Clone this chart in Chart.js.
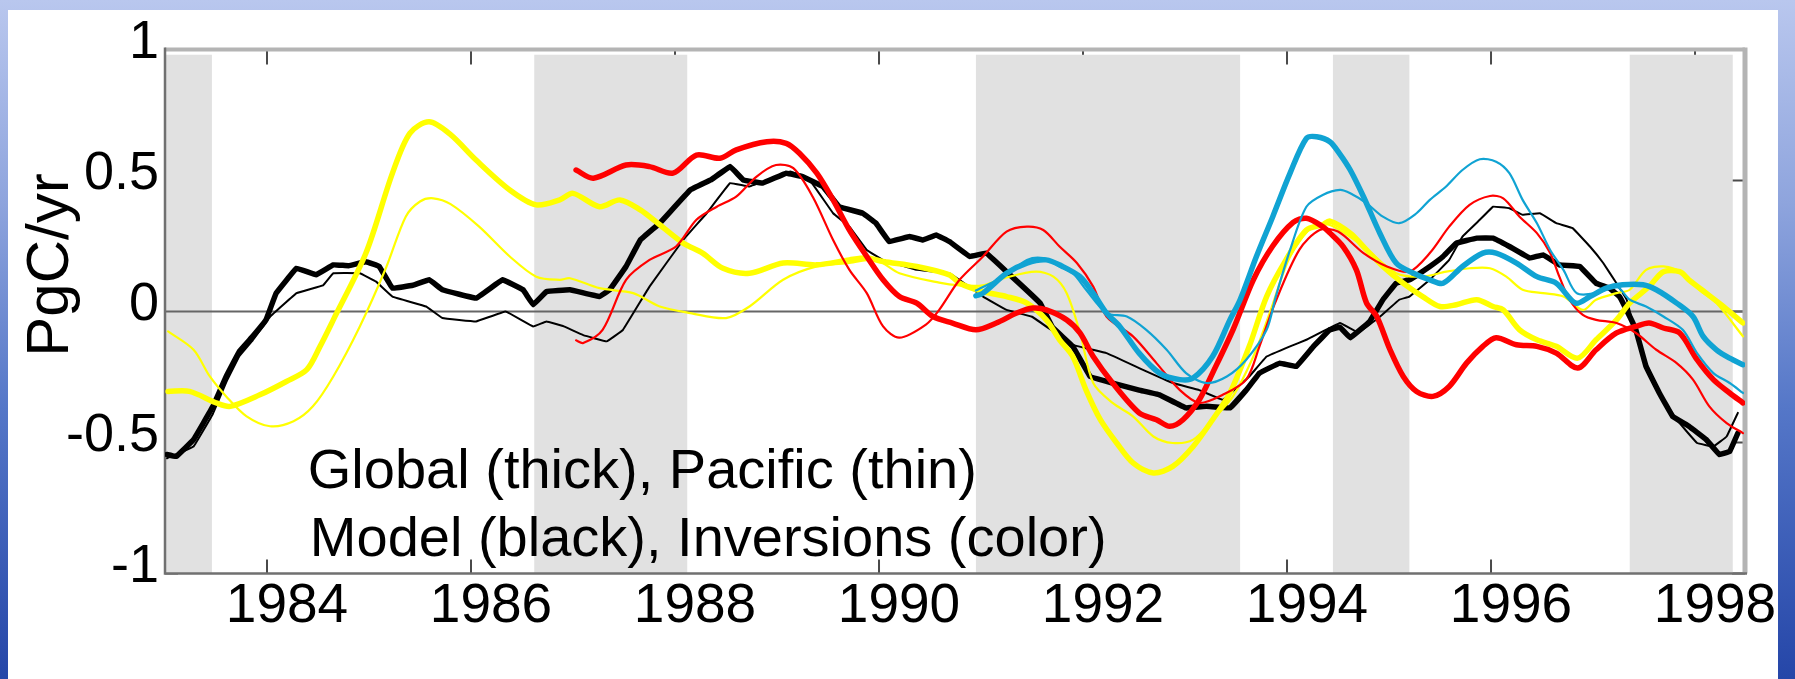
<!DOCTYPE html>
<html>
<head>
<meta charset="utf-8">
<script src="https://cdn.jsdelivr.net/npm/chart.js@4.4.1/dist/chart.umd.min.js"></script>
<style>
  html, body { margin: 0; padding: 0; }
  body {
    width: 1795px; height: 679px; overflow: hidden; position: relative;
    background: linear-gradient(180deg, #b9c7ee 0%, #8ea4dd 30%, #5577c8 60%, #2546a8 100%);
  }
  #paper { position: absolute; left: 8px; top: 10px; width: 1770px; height: 669px; background: #ffffff; }
  #wrap { position: absolute; left: 0; top: 0; width: 1795px; height: 679px; }
</style>
</head>
<body>
<div id="paper"></div>
<div id="wrap"><canvas id="c" width="1795" height="679"></canvas></div>
<script>
// ---------------- data (years, PgC/yr) ----------------
const xTickYears = [1984, 1986, 1988, 1990, 1992, 1994, 1996, 1998];
const yTickValues = [-1, -0.5, 0, 0.5, 1];
const yTickLabels = ['-1', '-0.5', '0', '0.5', '1'];
const bandStart = [1983.0, 1986.62, 1990.95, 1994.45, 1997.36];
const bandEnd   = [1983.46, 1988.12, 1993.54, 1995.20, 1998.37];
const yTitle = 'PgC/yr';
const noteLine1 = 'Global (thick), Pacific (thin)';
const noteLine2 = 'Model (black), Inversions (color)';

const blackThick = [[1983.02,-0.546],[1983.11,-0.553],[1983.28,-0.489],[1983.47,-0.362],[1983.60,-0.248],[1983.73,-0.152],[1983.86,-0.095],[1983.99,-0.032],[1984.09,0.07],[1984.29,0.165],[1984.48,0.14],[1984.65,0.178],[1984.80,0.175],[1984.97,0.19],[1985.10,0.172],[1985.23,0.089],[1985.43,0.10],[1985.59,0.121],[1985.72,0.083],[1986.05,0.051],[1986.31,0.121],[1986.51,0.083],[1986.61,0.026],[1986.74,0.076],[1986.97,0.083],[1987.26,0.057],[1987.36,0.083],[1987.52,0.172],[1987.66,0.273],[1987.85,0.337],[1988.15,0.464],[1988.35,0.502],[1988.54,0.553],[1988.67,0.502],[1988.86,0.49],[1989.09,0.528],[1989.25,0.515],[1989.45,0.477],[1989.61,0.40],[1989.84,0.375],[1989.97,0.337],[1990.10,0.267],[1990.30,0.286],[1990.43,0.273],[1990.56,0.292],[1990.69,0.267],[1990.89,0.21],[1991.05,0.223],[1991.25,0.152],[1991.41,0.095],[1991.58,0.032],[1991.70,-0.06],[1991.90,-0.133],[1992.07,-0.248],[1992.29,-0.273],[1992.55,-0.30],[1992.75,-0.318],[1993.01,-0.368],[1993.21,-0.362],[1993.44,-0.368],[1993.60,-0.30],[1993.73,-0.235],[1993.93,-0.197],[1994.09,-0.21],[1994.26,-0.133],[1994.42,-0.07],[1994.52,-0.06],[1994.62,-0.10],[1994.81,-0.038],[1994.94,0.045],[1995.07,0.108],[1995.20,0.121],[1995.40,0.172],[1995.53,0.21],[1995.66,0.261],[1995.86,0.28],[1996.02,0.28],[1996.18,0.248],[1996.38,0.204],[1996.51,0.216],[1996.67,0.178],[1996.87,0.172],[1997.03,0.108],[1997.16,0.089],[1997.26,0.057],[1997.36,-0.019],[1997.42,-0.07],[1997.52,-0.21],[1997.65,-0.311],[1997.78,-0.40],[1997.94,-0.438],[1998.11,-0.489],[1998.24,-0.546],[1998.34,-0.534],[1998.42,-0.464]];

const blackThin = [[1983.02,-0.56],[1983.28,-0.515],[1983.47,-0.39],[1983.60,-0.27],[1983.73,-0.17],[1983.86,-0.11],[1984.03,-0.02],[1984.29,0.07],[1984.55,0.10],[1984.65,0.146],[1984.91,0.146],[1985.07,0.114],[1985.23,0.057],[1985.56,0.019],[1985.72,-0.025],[1986.05,-0.038],[1986.34,0.0],[1986.61,-0.057],[1986.74,-0.038],[1986.91,-0.057],[1987.10,-0.09],[1987.33,-0.114],[1987.49,-0.07],[1987.75,0.095],[1988.08,0.273],[1988.31,0.375],[1988.54,0.49],[1988.73,0.477],[1989.13,0.534],[1989.32,0.502],[1989.55,0.375],[1989.71,0.324],[1989.88,0.235],[1990.04,0.197],[1990.37,0.159],[1990.69,0.146],[1991.02,0.057],[1991.25,0.006],[1991.50,-0.02],[1991.90,-0.127],[1992.23,-0.159],[1992.55,-0.216],[1992.88,-0.273],[1993.14,-0.30],[1993.37,-0.337],[1993.63,-0.248],[1993.80,-0.172],[1994.03,-0.133],[1994.19,-0.108],[1994.52,-0.044],[1994.70,-0.08],[1994.91,-0.02],[1995.10,0.045],[1995.20,0.057],[1995.40,0.121],[1995.59,0.197],[1995.72,0.286],[1995.89,0.35],[1996.02,0.40],[1996.18,0.394],[1996.31,0.369],[1996.48,0.375],[1996.64,0.337],[1996.80,0.318],[1996.97,0.248],[1997.10,0.185],[1997.23,0.108],[1997.33,0.045],[1997.39,-0.044],[1997.52,-0.197],[1997.69,-0.337],[1997.82,-0.413],[1998.02,-0.502],[1998.18,-0.515],[1998.31,-0.477],[1998.42,-0.387]];

const yellowThick = [[1983.03,-0.305],[1983.24,-0.305],[1983.51,-0.35],[1983.64,-0.362],[1983.93,-0.318],[1984.19,-0.267],[1984.39,-0.222],[1984.52,-0.133],[1984.65,-0.032],[1984.97,0.223],[1985.23,0.528],[1985.40,0.68],[1985.59,0.724],[1985.80,0.675],[1986.05,0.578],[1986.38,0.464],[1986.64,0.407],[1986.87,0.426],[1987.00,0.451],[1987.26,0.40],[1987.46,0.426],[1987.66,0.388],[1987.85,0.331],[1988.08,0.261],[1988.27,0.223],[1988.47,0.165],[1988.73,0.146],[1989.06,0.185],[1989.39,0.178],[1989.71,0.197],[1989.88,0.204],[1990.04,0.191],[1990.37,0.172],[1990.69,0.14],[1990.79,0.108],[1991.02,0.076],[1991.25,0.057],[1991.45,0.032],[1991.64,-0.032],[1991.77,-0.108],[1991.90,-0.172],[1992.03,-0.30],[1992.17,-0.413],[1992.33,-0.502],[1992.49,-0.578],[1992.69,-0.616],[1992.88,-0.591],[1993.08,-0.515],[1993.27,-0.413],[1993.44,-0.311],[1993.63,-0.133],[1993.80,0.057],[1993.99,0.197],[1994.19,0.311],[1994.35,0.331],[1994.42,0.345],[1994.62,0.299],[1994.78,0.235],[1994.94,0.172],[1995.14,0.108],[1995.33,0.057],[1995.50,0.019],[1995.66,0.026],[1995.86,0.045],[1996.02,0.019],[1996.12,0.006],[1996.28,-0.07],[1996.45,-0.108],[1996.64,-0.133],[1996.85,-0.178],[1997.03,-0.108],[1997.23,-0.032],[1997.36,0.032],[1997.55,0.095],[1997.69,0.152],[1997.85,0.152],[1997.94,0.121],[1998.11,0.07],[1998.28,0.019],[1998.47,-0.044]];

const yellowThin = [[1983.03,-0.076],[1983.28,-0.146],[1983.44,-0.248],[1983.60,-0.324],[1983.80,-0.40],[1984.03,-0.438],[1984.26,-0.419],[1984.45,-0.362],[1984.65,-0.248],[1984.91,-0.057],[1985.17,0.17],[1985.36,0.362],[1985.50,0.42],[1985.63,0.432],[1985.80,0.41],[1986.08,0.324],[1986.38,0.21],[1986.64,0.133],[1986.87,0.121],[1986.97,0.127],[1987.26,0.089],[1987.59,0.07],[1987.85,0.019],[1988.15,-0.006],[1988.50,-0.025],[1988.73,0.019],[1989.06,0.121],[1989.39,0.172],[1989.71,0.185],[1989.97,0.197],[1990.20,0.146],[1990.59,0.11],[1990.79,0.10],[1991.02,0.10],[1991.25,0.13],[1991.54,0.152],[1991.71,0.133],[1991.84,0.07],[1991.97,-0.08],[1992.10,-0.273],[1992.29,-0.349],[1992.49,-0.40],[1992.69,-0.477],[1992.88,-0.502],[1993.08,-0.489],[1993.27,-0.413],[1993.47,-0.324],[1993.67,-0.172],[1993.83,-0.006],[1994.03,0.21],[1994.25,0.324],[1994.42,0.33],[1994.75,0.248],[1995.07,0.146],[1995.33,0.133],[1995.56,0.152],[1995.79,0.165],[1995.99,0.165],[1996.15,0.133],[1996.31,0.083],[1996.51,0.07],[1996.71,0.057],[1996.90,0.006],[1997.03,0.045],[1997.23,0.07],[1997.36,0.083],[1997.52,0.159],[1997.69,0.172],[1997.88,0.146],[1998.04,0.083],[1998.21,0.032],[1998.47,-0.095]];

const redThick = [[1987.03,0.540],[1987.20,0.509],[1987.52,0.559],[1987.75,0.553],[1987.98,0.528],[1988.21,0.597],[1988.44,0.585],[1988.60,0.617],[1988.90,0.648],[1989.09,0.642],[1989.22,0.604],[1989.39,0.528],[1989.55,0.426],[1989.71,0.311],[1989.88,0.21],[1990.04,0.121],[1990.20,0.057],[1990.37,0.032],[1990.53,-0.019],[1990.72,-0.044],[1990.95,-0.07],[1991.15,-0.044],[1991.35,-0.006],[1991.51,0.013],[1991.64,0.006],[1991.84,-0.032],[1991.97,-0.082],[1992.10,-0.172],[1992.29,-0.273],[1992.55,-0.387],[1992.72,-0.413],[1992.85,-0.438],[1992.98,-0.413],[1993.14,-0.337],[1993.27,-0.235],[1993.47,-0.07],[1993.67,0.121],[1993.86,0.25],[1994.06,0.34],[1994.19,0.356],[1994.35,0.324],[1994.42,0.30],[1994.55,0.248],[1994.68,0.159],[1994.78,0.032],[1994.88,-0.019],[1995.01,-0.146],[1995.14,-0.248],[1995.27,-0.305],[1995.43,-0.324],[1995.59,-0.286],[1995.76,-0.197],[1995.92,-0.133],[1996.05,-0.10],[1996.25,-0.127],[1996.45,-0.133],[1996.64,-0.159],[1996.85,-0.216],[1997.03,-0.146],[1997.23,-0.082],[1997.42,-0.057],[1997.55,-0.044],[1997.69,-0.063],[1997.85,-0.082],[1998.02,-0.184],[1998.18,-0.26],[1998.34,-0.311],[1998.47,-0.349]];

const redThin = [[1987.03,-0.11],[1987.10,-0.12],[1987.29,-0.07],[1987.52,0.121],[1987.75,0.197],[1988.01,0.248],[1988.21,0.35],[1988.41,0.40],[1988.60,0.438],[1988.80,0.515],[1988.99,0.559],[1989.16,0.547],[1989.35,0.438],[1989.55,0.273],[1989.71,0.159],[1989.88,0.07],[1990.04,-0.057],[1990.20,-0.10],[1990.46,-0.05],[1990.59,0.006],[1990.79,0.121],[1991.02,0.21],[1991.25,0.305],[1991.45,0.324],[1991.61,0.311],[1991.77,0.248],[1991.94,0.185],[1992.10,0.095],[1992.23,-0.019],[1992.49,-0.095],[1992.72,-0.197],[1992.95,-0.30],[1993.14,-0.349],[1993.37,-0.318],[1993.60,-0.26],[1993.73,-0.133],[1993.88,0.03],[1994.12,0.235],[1994.32,0.311],[1994.50,0.305],[1994.75,0.223],[1994.98,0.172],[1995.20,0.152],[1995.40,0.223],[1995.59,0.324],[1995.79,0.407],[1995.99,0.441],[1996.12,0.432],[1996.28,0.362],[1996.45,0.299],[1996.58,0.223],[1996.67,0.133],[1996.77,0.045],[1996.90,-0.013],[1997.03,-0.032],[1997.23,-0.044],[1997.42,-0.082],[1997.62,-0.146],[1997.82,-0.197],[1997.98,-0.26],[1998.14,-0.362],[1998.31,-0.426],[1998.47,-0.464]];

const cyanThick = [[1990.95,0.06],[1991.02,0.07],[1991.25,0.146],[1991.45,0.185],[1991.64,0.197],[1991.80,0.172],[1991.97,0.133],[1992.10,0.07],[1992.23,-0.006],[1992.36,-0.057],[1992.55,-0.159],[1992.75,-0.235],[1992.95,-0.26],[1993.08,-0.254],[1993.27,-0.172],[1993.44,-0.032],[1993.54,0.045],[1993.70,0.21],[1993.86,0.362],[1994.03,0.528],[1994.19,0.661],[1994.29,0.667],[1994.42,0.648],[1994.52,0.60],[1994.62,0.54],[1994.75,0.438],[1994.91,0.299],[1995.07,0.185],[1995.24,0.146],[1995.40,0.121],[1995.53,0.108],[1995.72,0.172],[1995.92,0.223],[1996.05,0.223],[1996.25,0.185],[1996.45,0.133],[1996.64,0.108],[1996.83,0.032],[1996.97,0.057],[1997.13,0.089],[1997.29,0.102],[1997.49,0.102],[1997.62,0.083],[1997.82,0.032],[1997.98,-0.019],[1998.08,-0.095],[1998.21,-0.146],[1998.34,-0.178],[1998.47,-0.203]];

const cyanThin = [[1990.95,0.08],[1991.25,0.14],[1991.45,0.197],[1991.61,0.204],[1991.77,0.172],[1991.90,0.146],[1992.03,0.083],[1992.23,-0.006],[1992.43,-0.019],[1992.62,-0.07],[1992.82,-0.146],[1993.01,-0.235],[1993.21,-0.273],[1993.41,-0.248],[1993.60,-0.184],[1993.80,-0.07],[1993.89,0.057],[1994.03,0.235],[1994.19,0.40],[1994.35,0.445],[1994.52,0.464],[1994.62,0.451],[1994.78,0.413],[1994.94,0.362],[1995.10,0.337],[1995.27,0.375],[1995.40,0.426],[1995.56,0.477],[1995.72,0.54],[1995.89,0.581],[1996.05,0.572],[1996.18,0.528],[1996.31,0.426],[1996.45,0.337],[1996.58,0.235],[1996.71,0.159],[1996.84,0.07],[1997.03,0.07],[1997.23,0.095],[1997.36,0.045],[1997.52,0.019],[1997.69,-0.019],[1997.88,-0.07],[1998.02,-0.159],[1998.18,-0.235],[1998.34,-0.273],[1998.47,-0.311]];

// ---------------- styling ----------------
const FONT = "'Liberation Sans', Arial, Helvetica, sans-serif";
const THICK = 5.5, THIN = 2.2;
const CYAN = '#10a3d3', RED = '#ff0000', YELLOW = '#ffff00', BLACK = '#000000';
const BAND_TOP = 0.98;

function series(pairs, color, width, tension) {
  return {
    data: pairs.map(p => ({ x: p[0], y: p[1] })),
    borderColor: color, borderWidth: width, tension: tension,
    pointRadius: 0, fill: false, borderCapStyle: 'round', borderJoinStyle: 'round'
  };
}

// dataset 0 is drawn on top
const datasets = [
  series(cyanThick, CYAN, THICK, 0.3),
  series(cyanThin, CYAN, THIN, 0.3),
  series(redThick, RED, THICK, 0.3),
  series(redThin, RED, THIN, 0.3),
  series(yellowThick, YELLOW, THICK, 0.3),
  series(yellowThin, YELLOW, THIN, 0.3),
  series(blackThick, BLACK, 5.5, 0.05),
  series(blackThin, BLACK, 2.0, 0.05)
];

const decor = {
  id: 'decor',
  beforeDatasetsDraw(chart) {
    const { ctx, chartArea: a, scales: { x, y } } = chart;
    ctx.save();
    // inward tick marks on all four sides
    ctx.strokeStyle = '#4a4a4a'; ctx.lineWidth = 2;
    ctx.beginPath();
    xTickYears.forEach(t => {
      const px = x.getPixelForValue(t);
      ctx.moveTo(px, a.bottom); ctx.lineTo(px, a.bottom - 14);
      ctx.moveTo(px, a.top); ctx.lineTo(px, a.top + 15);
    });
    yTickValues.forEach(v => {
      const py = y.getPixelForValue(v);
      ctx.moveTo(a.left, py); ctx.lineTo(a.left + 13, py);
      ctx.moveTo(a.right, py); ctx.lineTo(a.right - 13, py);
    });
    ctx.stroke();
    // shaded periods
    ctx.fillStyle = '#e1e1e1';
    const yT = y.getPixelForValue(BAND_TOP), yB = y.getPixelForValue(-1);
    bandStart.forEach((s, i) => {
      const x0 = x.getPixelForValue(s), x1 = x.getPixelForValue(bandEnd[i]);
      ctx.fillRect(x0, yT, x1 - x0, yB - yT);
    });
    // zero line
    const y0 = y.getPixelForValue(0);
    ctx.strokeStyle = '#666666'; ctx.lineWidth = 2;
    ctx.beginPath(); ctx.moveTo(a.left, y0); ctx.lineTo(a.right, y0); ctx.stroke();
    // frame: light top/right, darker left/bottom
    ctx.strokeStyle = '#b4b4b4'; ctx.lineWidth = 4;
    ctx.beginPath(); ctx.moveTo(a.left, a.top); ctx.lineTo(a.right, a.top); ctx.stroke();
    ctx.lineWidth = 5;
    ctx.beginPath(); ctx.moveTo(a.right, a.top - 2); ctx.lineTo(a.right, a.bottom); ctx.stroke();
    ctx.strokeStyle = '#707070'; ctx.lineWidth = 2.5;
    ctx.beginPath(); ctx.moveTo(a.left, a.top - 2); ctx.lineTo(a.left, a.bottom); ctx.lineTo(a.right + 2, a.bottom); ctx.stroke();
    ctx.restore();
  },
  afterDraw(chart) {
    const { ctx, scales: { x, y } } = chart;
    ctx.save();
    ctx.fillStyle = '#000';
    ctx.font = '56px ' + FONT;
    ctx.textAlign = 'left'; ctx.textBaseline = 'alphabetic';
    ctx.fillText(noteLine1, x.getPixelForValue(1984.40), y.getPixelForValue(-0.672));
    ctx.fillText(noteLine2, x.getPixelForValue(1984.42), y.getPixelForValue(-0.933));
    // y axis title
    ctx.font = '60px ' + FONT;
    ctx.translate(68, 265);
    ctx.rotate(-Math.PI / 2);
    ctx.textAlign = 'center';
    ctx.fillText(yTitle, 0, 0);
    ctx.restore();
  }
};

new Chart(document.getElementById('c'), {
  type: 'line',
  data: { datasets },
  options: {
    responsive: false, animation: false, devicePixelRatio: 1,
    layout: { padding: { top: 49.5, right: 50, bottom: 0, left: 0 } },
    plugins: { legend: { display: false }, tooltip: { enabled: false }, title: { display: false } },
    scales: {
      x: {
        type: 'linear', min: 1983, max: 1998.49,
        grid: { display: false, drawTicks: false }, border: { display: false },
        afterBuildTicks: s => { s.ticks = xTickYears.map(v => ({ value: v })); },
        afterFit: s => { s.height = 105.5; },
        ticks: { autoSkip: false, maxRotation: 0, minRotation: 0, padding: 0, labelOffset: 20,
                 color: '#000', font: { family: FONT, size: 55, lineHeight: 1.2 },
                 callback: v => String(v) }
      },
      y: {
        type: 'linear', min: -1, max: 1,
        grid: { display: false, drawTicks: false }, border: { display: false },
        afterBuildTicks: s => { s.ticks = yTickValues.map(v => ({ value: v })); },
        afterFit: s => { s.width = 165; },
        ticks: { padding: 6, labelOffset: -6, color: '#000', font: { family: FONT, size: 54, lineHeight: 1.2 },
                 callback: v => yTickLabels[yTickValues.indexOf(v)] }
      }
    }
  },
  plugins: [decor]
});
</script>
</body>
</html>
